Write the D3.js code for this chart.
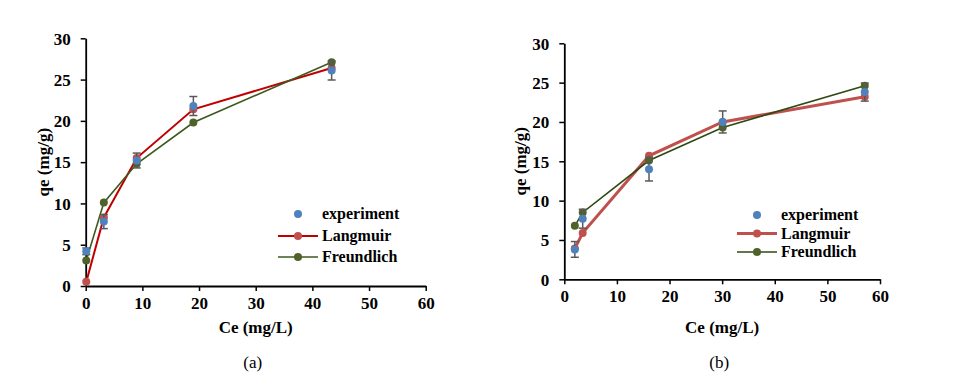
<!DOCTYPE html>
<html lang="en">
<head>
<meta charset="UTF-8">
<title>Adsorption isotherms</title>
<script src="https://cdn.jsdelivr.net/npm/d3@7/dist/d3.min.js"></script>
<style>
  body { margin: 0; background: #fff; }
  text { font-family: "Liberation Serif", "Times New Roman", serif; }
</style>
</head>
<body>
<svg id="main" width="958" height="392"></svg>
<script>
// ---- data ----
// panel (a)
var aCe       = [0.1, 3.2, 9.0, 19.0, 43.4];
var aExp      = [4.2, 7.8, 15.2, 21.8, 26.1];
var aErr      = [0.4, 0.85, 0.9, 1.15, 1.15];
var aLangmuir = [0.5, 8.3, 15.5, 21.4, 26.4];
var aFreund   = [3.1, 10.1, 14.8, 19.8, 27.1];
// panel (b)
var bCe       = [2.0, 3.5, 16.1, 30.1, 57.1];
var bExp      = [3.8, 7.7, 14.0, 20.0, 23.8];
var bErr      = [1.0, 1.2, 1.5, 1.4, 1.15];
var bLangmuir = [3.9, 5.9, 15.7, 20.0, 23.2];
var bFreund   = [6.8, 8.5, 15.1, 19.3, 24.6];

var xTicks = [0, 10, 20, 30, 40, 50, 60];
var yTicks = [0, 5, 10, 15, 20, 25, 30];
var legendNames = ["experiment", "Langmuir", "Freundlich"];
var xTitle = "Ce (mg/L)", yTitle = "qe (mg/g)";

var svg = d3.select("svg#main");

var blue = "#4F81BD", redFill = "#C0504D", greenFill = "#4F6228";

var panels = [
  {ce: aCe, exp: aExp, err: aErr, lang: aLangmuir, fr: aFreund, label: "(a)",
   x0: 85.7, x1: 425.7, y0: 286, y1: 38.3,
   langColor: "#C00000", langWidth: 2, frColor: "#3D5A1E", frWidth: 1.6,
   yTitleX: 43, leg: {x: 298, y: [214, 236, 257]}},
  {ce: bCe, exp: bExp, err: bErr, lang: bLangmuir, fr: bFreund, label: "(b)",
   x0: 564.3, x1: 880, y0: 279.3, y1: 43.3,
   langColor: "#C0504D", langWidth: 3, frColor: "#2E4A12", frWidth: 1.6,
   yTitleX: 520, leg: {x: 757, y: [215, 233.5, 252]}}
];

panels.forEach(function(p) {
  var x = d3.scaleLinear().domain([0, 60]).range([p.x0, p.x1]);
  var y = d3.scaleLinear().domain([0, 30]).range([p.y0, p.y1]);
  var g = svg.append("g");

  var xa = g.append("g")
    .attr("transform", "translate(0," + p.y0 + ")")
    .call(d3.axisBottom(x).tickValues(xTicks).tickSize(5).tickSizeOuter(0).tickPadding(6));
  var ya = g.append("g")
    .attr("transform", "translate(" + p.x0 + ",0)")
    .call(d3.axisLeft(y).tickValues(yTicks).tickSize(5).tickSizeOuter(0).tickPadding(10));
  [xa, ya].forEach(function(a) {
    a.select(".domain").attr("stroke", "#000").attr("stroke-width", 1.8);
    a.selectAll(".tick line").attr("stroke", "#000").attr("stroke-width", 1.5);
    a.selectAll(".tick text")
      .attr("fill", "#000")
      .style("font-family", "'Liberation Serif', serif")
      .style("font-size", "17px")
      .style("font-weight", "bold");
  });
  ya.selectAll(".tick text").attr("dy", "0.34em");

  // axis titles and panel label
  g.append("text")
    .attr("x", (p.x0 + p.x1) / 2).attr("y", 333)
    .attr("text-anchor", "middle")
    .style("font-size", "17px").style("font-weight", "bold")
    .text(xTitle);
  g.append("text")
    .attr("transform", "translate(" + (p.yTitleX + 6) + "," + ((p.y0 + p.y1) / 2) + ") rotate(-90)")
    .attr("text-anchor", "middle")
    .style("font-size", "17px").style("font-weight", "bold")
    .text(yTitle);
  g.append("text")
    .attr("x", (p.x0 + p.x1) / 2 - 3).attr("y", 368)
    .attr("text-anchor", "middle")
    .style("font-size", "17px")
    .text(p.label);

  var line = d3.line()
    .x(function(d) { return x(d[0]); })
    .y(function(d) { return y(d[1]); });

  var langPts = p.ce.map(function(c, i) { return [c, p.lang[i]]; });
  var frPts = p.ce.map(function(c, i) { return [c, p.fr[i]]; });
  var expPts = p.ce.map(function(c, i) { return [c, p.exp[i], p.err[i]]; });

  g.append("path").datum(langPts).attr("d", line)
    .attr("fill", "none").attr("stroke", p.langColor).attr("stroke-width", p.langWidth);
  g.append("path").datum(frPts).attr("d", line)
    .attr("fill", "none").attr("stroke", p.frColor).attr("stroke-width", p.frWidth);

  g.selectAll(".lang").data(langPts).enter().append("circle")
    .attr("cx", function(d) { return x(d[0]); })
    .attr("cy", function(d) { return y(d[1]); })
    .attr("r", 4).attr("fill", redFill);
  g.selectAll(".fr").data(frPts).enter().append("circle")
    .attr("cx", function(d) { return x(d[0]); })
    .attr("cy", function(d) { return y(d[1]); })
    .attr("r", 4).attr("fill", greenFill);

  // error bars
  var eb = g.selectAll(".eb").data(expPts).enter().append("g")
    .attr("stroke", "#595959").attr("stroke-width", 1.5);
  eb.append("line")
    .attr("x1", function(d) { return x(d[0]); }).attr("x2", function(d) { return x(d[0]); })
    .attr("y1", function(d) { return y(d[1] - d[2]); }).attr("y2", function(d) { return y(d[1] + d[2]); });
  [-1, 1].forEach(function(s) {
    eb.append("line")
      .attr("x1", function(d) { return x(d[0]) - 4; }).attr("x2", function(d) { return x(d[0]) + 4; })
      .attr("y1", function(d) { return y(d[1] + s * d[2]); }).attr("y2", function(d) { return y(d[1] + s * d[2]); });
  });

  g.selectAll(".exp").data(expPts).enter().append("circle")
    .attr("cx", function(d) { return x(d[0]); })
    .attr("cy", function(d) { return y(d[1]); })
    .attr("r", 4).attr("fill", blue);

  // legend
  var lg = g.append("g");
  legendNames.forEach(function(name, i) {
    var ly = p.leg.y[i];
    if (i === 1) {
      lg.append("line").attr("x1", p.leg.x - 20).attr("x2", p.leg.x + 20)
        .attr("y1", ly).attr("y2", ly)
        .attr("stroke", p.langColor).attr("stroke-width", p.langWidth);
    } else if (i === 2) {
      lg.append("line").attr("x1", p.leg.x - 20).attr("x2", p.leg.x + 20)
        .attr("y1", ly).attr("y2", ly)
        .attr("stroke", p.frColor).attr("stroke-width", p.frWidth);
    }
    lg.append("circle").attr("cx", p.leg.x).attr("cy", ly).attr("r", 4)
      .attr("fill", [blue, redFill, greenFill][i]);
    lg.append("text")
      .attr("x", p.leg.x + 24).attr("y", ly + 5)
      .style("font-size", "16px").style("font-weight", "bold")
      .text(name);
  });
});
</script>
</body>
</html>
